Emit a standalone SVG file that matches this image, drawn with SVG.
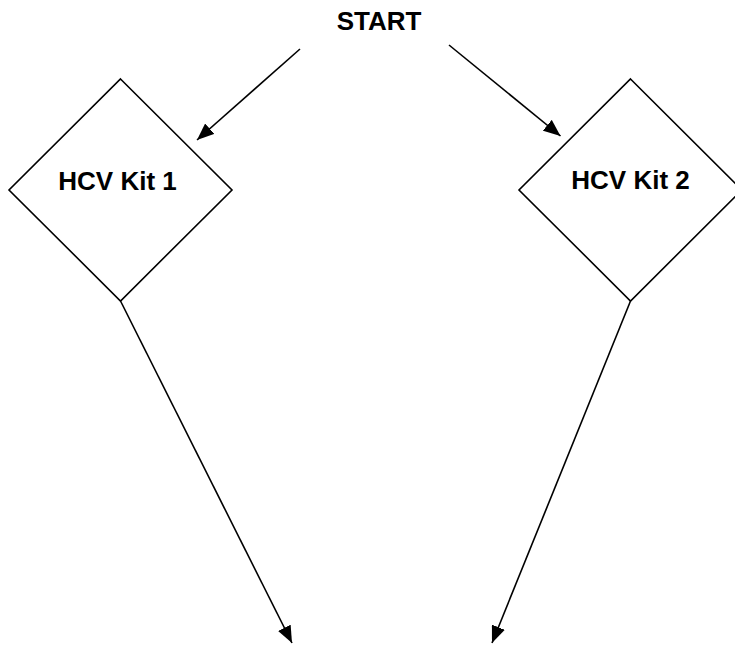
<svg xmlns="http://www.w3.org/2000/svg" width="735" height="645" viewBox="0 0 735 645">
  <style>
    .shape { fill: #ffffff; stroke: #000000; stroke-width: 1.6; }
    .edge { fill: none; stroke: #000000; stroke-width: 1.6; marker-end: url(#arrow); }
    .label { font-family: "Liberation Sans", Arial, sans-serif; font-weight: bold; font-size: 26px; fill: #000000; text-anchor: middle; }
  </style>
  <defs>
    <marker id="arrow" markerUnits="userSpaceOnUse" markerWidth="17" markerHeight="14" refX="17" refY="7" orient="auto">
      <path d="M0,0 L17,7 L0,14 z" fill="#000000"/>
    </marker>
  </defs>
  <rect width="735" height="645" fill="#ffffff"/>

  <g id="start">
    <text class="label" x="379" y="30">START</text>
  </g>

  <g id="kit1">
    <polygon class="shape" points="120.5,79 232,190 120.5,301 9,190"/>
    <text class="label" x="117.5" y="190">HCV Kit 1</text>
  </g>

  <g id="kit2">
    <polygon class="shape" points="630.5,79 742,190 630.5,301 519,190"/>
    <text class="label" x="630.5" y="189">HCV Kit 2</text>
  </g>

  <g id="connectors">
    <line class="edge" x1="300" y1="49" x2="197" y2="140"/>
    <line class="edge" x1="449" y1="45" x2="560.5" y2="136"/>
    <line class="edge" x1="120.5" y1="301" x2="292" y2="643"/>
    <line class="edge" x1="630.5" y1="301" x2="492" y2="643"/>
  </g>
</svg>
